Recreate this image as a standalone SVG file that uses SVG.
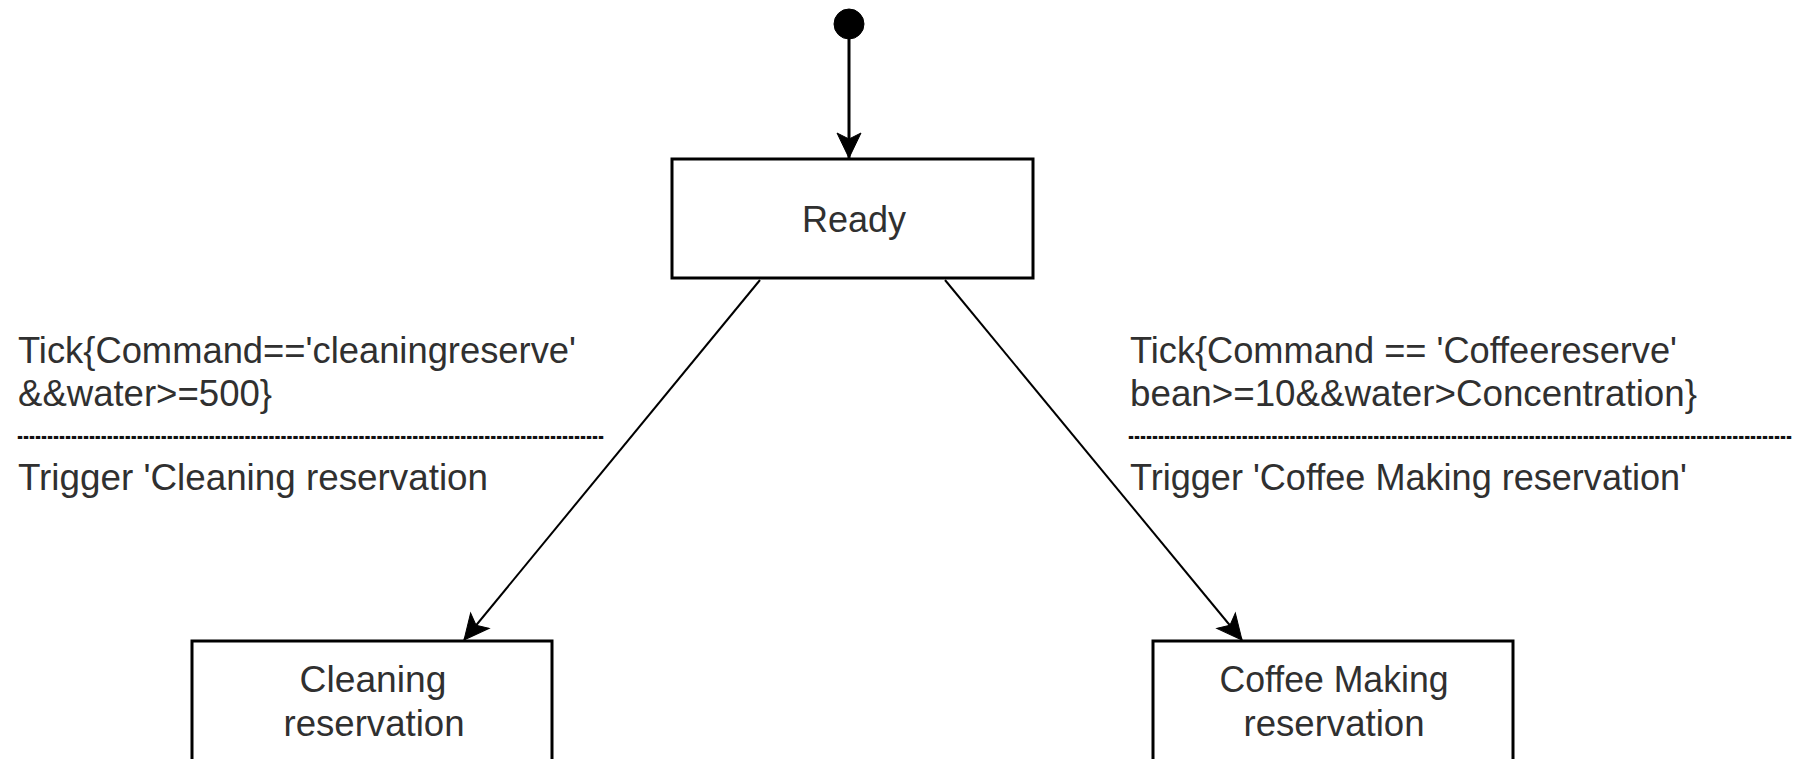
<svg xmlns="http://www.w3.org/2000/svg" width="1799" height="759" viewBox="0 0 1799 759">
  <style>
    .state { fill: #ffffff; stroke: #000000; stroke-width: 3; }
    .lbl { font-family: "Liberation Sans", Arial, sans-serif; font-size: 36px; fill: #303030; }
    .dash { font-family: "Liberation Sans", Arial, sans-serif; font-size: 38px; fill: #111111; }
    .mid { text-anchor: middle; }
    .edge { fill: none; stroke: #000000; }
  </style>
  <defs>
    <marker id="arrow" markerUnits="userSpaceOnUse" markerWidth="30" markerHeight="30" viewBox="-27 -14 30 28" refX="0" refY="0" orient="auto">
      <path d="M0,0 L-25,-12 L-19,0 L-25,12 Z" fill="#000000" stroke="#000000" stroke-width="1"/>
    </marker>
  </defs>
  <rect width="1799" height="759" fill="#ffffff"/>

  <g id="connectors">
    <line class="edge" x1="849" y1="38" x2="849" y2="158" stroke-width="3" marker-end="url(#arrow)"/>
    <line class="edge" x1="760" y1="280" x2="464" y2="640" stroke-width="2" marker-end="url(#arrow)"/>
    <line class="edge" x1="945" y1="280" x2="1242" y2="640" stroke-width="2" marker-end="url(#arrow)"/>
  </g>

  <g id="label-left">
    <text class="lbl" x="18" y="363" textLength="558" lengthAdjust="spacingAndGlyphs">Tick{Command=='cleaningreserve'</text>
    <text class="lbl" x="18" y="406" textLength="254" lengthAdjust="spacingAndGlyphs">&amp;&amp;water&gt;=500}</text>
    <text class="dash" x="17" y="448" textLength="587" lengthAdjust="spacingAndGlyphs">--------------------------------------------------------------------------------------------------</text>
    <text class="lbl" x="18" y="490" textLength="470" lengthAdjust="spacingAndGlyphs">Trigger 'Cleaning reservation</text>
  </g>

  <g id="label-right">
    <text class="lbl" x="1130" y="363" textLength="547" lengthAdjust="spacingAndGlyphs">Tick{Command == 'Coffeereserve'</text>
    <text class="lbl" x="1130" y="406" textLength="567" lengthAdjust="spacingAndGlyphs">bean&gt;=10&amp;&amp;water&gt;Concentration}</text>
    <text class="dash" x="1128" y="448" textLength="664" lengthAdjust="spacingAndGlyphs">---------------------------------------------------------------------------------------------------------------</text>
    <text class="lbl" x="1130" y="490" textLength="557" lengthAdjust="spacingAndGlyphs">Trigger 'Coffee Making reservation'</text>
  </g>

  <g id="initial">
    <circle cx="849" cy="24" r="15" fill="#000000" stroke="#000000" stroke-width="1"/>
  </g>

  <g id="ready">
    <rect class="state" x="672" y="159" width="361" height="119"/>
    <text class="lbl mid" x="854" y="232">Ready</text>
  </g>

  <g id="cleaning">
    <rect class="state" x="192" y="641" width="360" height="125"/>
    <text class="lbl mid" x="373" y="692" textLength="147" lengthAdjust="spacingAndGlyphs">Cleaning</text>
    <text class="lbl mid" x="374" y="736" textLength="181" lengthAdjust="spacingAndGlyphs">reservation</text>
  </g>

  <g id="coffee">
    <rect class="state" x="1153" y="641" width="360" height="125"/>
    <text class="lbl mid" x="1334" y="692" textLength="229" lengthAdjust="spacingAndGlyphs">Coffee Making</text>
    <text class="lbl mid" x="1334" y="736" textLength="181" lengthAdjust="spacingAndGlyphs">reservation</text>
  </g>
</svg>
